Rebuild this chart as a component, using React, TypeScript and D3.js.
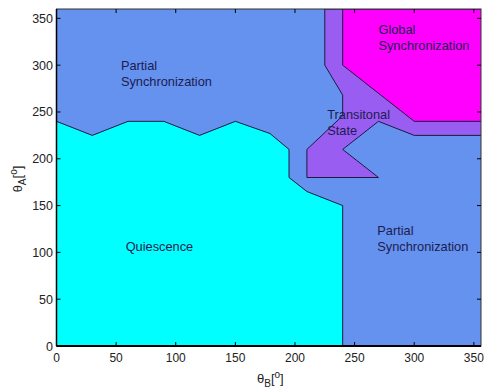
import * as d3 from 'd3';
import React from 'react';

// region outlines, in degrees (theta_B, theta_A)
const quiescence = [
  [0, 0], [0, 240], [30, 225], [60, 240], [90, 240], [120, 225], [150, 240],
  [179, 227], [195, 210], [195, 180], [210, 165], [240, 150], [240, 0],
];
const transitional = [
  [225, 360], [225, 300], [240, 268], [240, 246], [210, 210], [210, 180],
  [270, 180], [240, 210], [270, 240], [300, 225], [360, 225], [360, 360],
];
const globalSync = [
  [240, 360], [240, 300], [300, 240], [360, 240], [360, 360],
];

const xTicks = [0, 50, 100, 150, 200, 250, 300, 350];
const yTicks = [0, 50, 100, 150, 200, 250, 300, 350];

const labels = [
  { lines: ['Partial', 'Synchronization'], x: 54, y: 295 },
  { lines: ['Global', 'Synchronization'], x: 270, y: 333 },
  { lines: ['Transitonal', 'State'], x: 227, y: 242 },
  { lines: ['Quiescence'], x: 58, y: 101 },
  { lines: ['Partial', 'Synchronization'], x: 269, y: 119 },
];

const W = 484, H = 392;
const left = 56.5, right = 481, top = 9, bottom = 346;

export default function App() {
  const x = d3.scaleLinear().domain([0, 356]).range([left, right]);
  const y = d3.scaleLinear().domain([0, 360]).range([bottom, top]);
  const line = d3.line<number[]>().x(d => x(d[0])).y(d => y(d[1])).curve(d3.curveLinearClosed);

  const font = "'Liberation Sans', Arial, sans-serif";

  return (
    <svg width={W} height={H} style={{ position: 'absolute', left: 0, top: 0 }} fontFamily={font}>
      <defs>
        <clipPath id="plot">
          <rect x={left} y={top} width={right - left} height={bottom - top} />
        </clipPath>
      </defs>
      <rect width={W} height={H} fill="#fff" />
      <g clipPath="url(#plot)">
        <rect x={left} y={top} width={right - left} height={bottom - top} fill="#6592ef" />
        <path d={line(quiescence) ?? ''} fill="#00ffff" stroke="#1a1a40" strokeWidth={1} />
        <path d={line(transitional) ?? ''} fill="#9a5df2" stroke="#1a1a40" strokeWidth={1} />
        <path d={line(globalSync) ?? ''} fill="#ff00ff" stroke="#1a1a40" strokeWidth={1} />
      </g>
      {labels.map((l, i) => (
        <text key={i} x={x(l.x)} y={y(l.y)} fontSize={12.8} fill="#1c1c50">
          {l.lines.map((t, j) => (
            <tspan key={j} x={x(l.x)} dy={j === 0 ? 0 : 16}>{t}</tspan>
          ))}
        </text>
      ))}
      {/* frame */}
      <rect x={left} y={top} width={right - left} height={bottom - top} fill="none" stroke="#333" strokeWidth={1} />
      <line x1={left} x2={right} y1={bottom} y2={bottom} stroke="#000" strokeWidth={2} />
      <line x1={left} x2={left} y1={top} y2={bottom} stroke="#000" strokeWidth={1.5} />
      {xTicks.map(t => (
        <g key={'x' + t}>
          <line x1={x(t)} x2={x(t)} y1={bottom} y2={bottom - 4} stroke="#000" />
          <line x1={x(t)} x2={x(t)} y1={top} y2={top + 4} stroke="#000" />
          <text x={x(t)} y={362} fontSize={12} textAnchor="middle" fill="#222">{t}</text>
        </g>
      ))}
      {yTicks.map(t => (
        <g key={'y' + t}>
          <line x1={left} x2={left + 4} y1={y(t)} y2={y(t)} stroke="#000" />
          <line x1={right} x2={right - 4} y1={y(t)} y2={y(t)} stroke="#000" />
          <text x={53} y={y(t) + 4.5} fontSize={12.5} textAnchor="end" fill="#222">{t}</text>
        </g>
      ))}
      <text x={257} y={383} fontSize={13} fill="#222">
        θ<tspan fontSize={10} dy={4}>B</tspan><tspan dy={-4}>[</tspan><tspan fontSize={10} dy={-5}>o</tspan><tspan dy={5}>]</tspan>
      </text>
      <text transform="translate(22,179) rotate(-90)" fontSize={13} textAnchor="middle" fill="#222">
        θ<tspan fontSize={10} dy={4}>A</tspan><tspan dy={-4}>[</tspan><tspan fontSize={10} dy={-5}>o</tspan><tspan dy={5}>]</tspan>
      </text>
    </svg>
  );
}
